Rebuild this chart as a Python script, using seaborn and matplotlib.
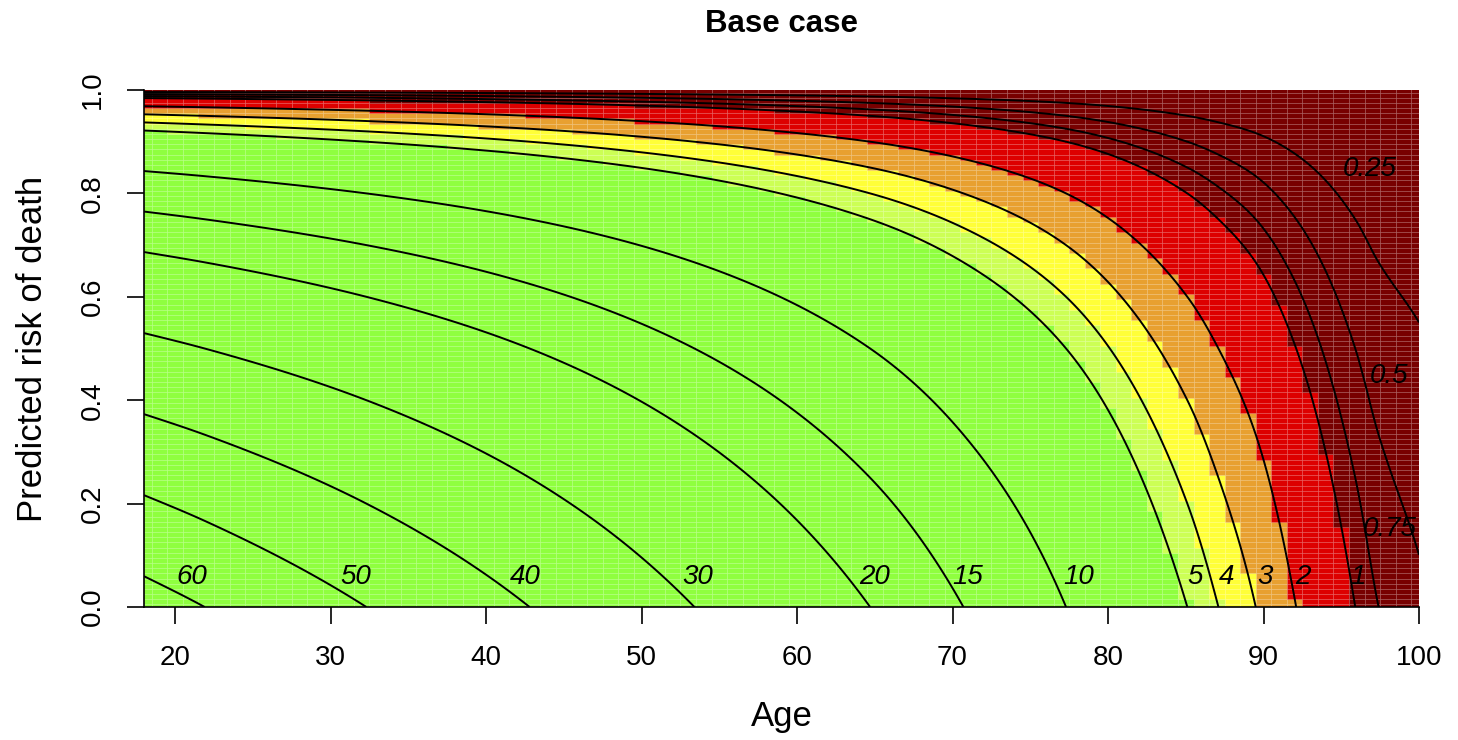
import numpy as np
import matplotlib
matplotlib.use("Agg")
import matplotlib.pyplot as plt
import seaborn as sns
from matplotlib.colors import ListedColormap, BoundaryNorm

# ---- data ----
# remaining life expectancy (years) at zero predicted risk, by age
base_age = [18, 21.9, 32.3, 42.8, 53.4, 64.7, 70.7, 77.3, 85.1, 87.1, 89.5, 92.1, 95.9, 97.4, 100]
base_le = [63.8, 60, 50, 40, 30, 20, 15, 10, 5, 4, 3, 2, 1, 0.75, 0.556]

# contour levels and where their labels sit
levels = [60, 50, 40, 30, 20, 15, 10, 5, 4, 3, 2, 1, 0.75, 0.5, 0.25]
label_age = [21.1, 31.6, 42.5, 53.6, 65.0, 71.0, 78.1, 85.6, 87.6, 90.1, 92.5, 96.1, 98.1, 98.1, 96.8]
label_risk = [0.058, 0.058, 0.058, 0.058, 0.058, 0.058, 0.058, 0.058, 0.058, 0.058, 0.058, 0.058, 0.15, 0.447, 0.847]

# colour bands (life expectancy thresholds, low -> high)
band_edges = [1, 2, 3, 4, 5]
band_colors = ["#780000", "#DD0000", "#E8A030", "#FFFF38", "#CCFF55", "#8FFF3F"]

x_ticks = [20, 30, 40, 50, 60, 70, 80, 90, 100]
y_ticks = [0.0, 0.2, 0.4, 0.6, 0.8, 1.0]

title = "Base case"
x_label = "Age"
y_label = "Predicted risk of death"


def monotone_cubic(xk, yk, x):
    """Fritsch-Carlson monotone cubic through the read points."""
    xk = np.asarray(xk, float)
    yk = np.asarray(yk, float)
    h = np.diff(xk)
    d = np.diff(yk) / h
    m = np.zeros_like(yk)
    w1 = 2 * h[1:] + h[:-1]
    w2 = h[1:] + 2 * h[:-1]
    same = d[:-1] * d[1:] > 0
    m[1:-1] = np.where(same, (w1 + w2) / (w1 / np.where(same, d[:-1], 1) + w2 / np.where(same, d[1:], 1)), 0.0)
    m[0] = d[0]
    m[-1] = d[-1]
    idx = np.clip(np.searchsorted(xk, x) - 1, 0, len(h) - 1)
    t = (x - xk[idx]) / h[idx]
    h00 = 2 * t**3 - 3 * t**2 + 1
    h10 = t**3 - 2 * t**2 + t
    h01 = -2 * t**3 + 3 * t**2
    h11 = t**3 - t**2
    return h00 * yk[idx] + h10 * h[idx] * m[idx] + h01 * yk[idx + 1] + h11 * h[idx] * m[idx + 1]


def life_expectancy(age, risk):
    le0 = np.exp(monotone_cubic(base_age, np.log(base_le), age))
    return (1.0 - risk)[:, None] * le0[None, :]


# ---- figure ----
sns.set_theme(style="ticks")
plt.rcParams["font.family"] = ["Liberation Sans", "DejaVu Sans"]
plt.rcParams["text.color"] = "black"
plt.rcParams["axes.labelcolor"] = "black"
plt.rcParams["xtick.color"] = "black"
plt.rcParams["ytick.color"] = "black"

fig = plt.figure(figsize=(14.58, 7.40), dpi=100)
ax = fig.add_axes([144 / 1458, 1 - 607 / 740, (1419 - 144) / 1458, (607 - 90) / 740])

# coarse raster of colour bands (cell centres on 1 year x 0.01 risk grid)
cell_age = np.arange(18, 101, 1.0)
cell_risk = np.arange(0, 1.0001, 0.01)
cell_le = life_expectancy(cell_age, cell_risk)
cmap = ListedColormap(band_colors)
norm = BoundaryNorm([-1] + band_edges + [1e6], cmap.N)
ax.pcolormesh(cell_age, cell_risk, cell_le, cmap=cmap, norm=norm, shading="nearest",
              edgecolors=(1, 1, 1, 0.06), linewidth=0.4, antialiased=True)

# contour lines on a fine grid
fine_age = np.linspace(18, 100, 821)
fine_risk = np.linspace(0, 1, 1001)
fine_le = life_expectancy(fine_age, fine_risk)
ax.contour(fine_age, fine_risk, fine_le, levels=sorted(levels), colors="black", linewidths=1.4)

for lev, lx, ly in zip(levels, label_age, label_risk):
    ax.text(lx, ly, f"{lev:g}", ha="center", va="center", style="italic", fontsize=20, color="black")

ax.set_xlim(18, 100)
ax.set_ylim(0, 1)
ax.set_xticks(x_ticks)
ax.set_xticklabels([f"{t:g}" for t in x_ticks])
ax.set_yticks(y_ticks)
ax.set_yticklabels([f"{t:.1f}" for t in y_ticks], rotation=90, va="center")
ax.tick_params(axis="both", length=12.5, width=1.2, pad=15, labelsize=20, color="black", labelcolor="black")
sns.despine(ax=ax, top=True, right=True)
for s in ("left", "bottom"):
    ax.spines[s].set_color("black")
    ax.spines[s].set_linewidth(1.2)

ax.set_xlabel(x_label, fontsize=25, labelpad=21, color="black")
ax.set_ylabel(y_label, fontsize=25, labelpad=22, color="black")
ax.set_title(title, fontsize=22.5, fontweight="bold", pad=42, color="black")

fig.savefig("out.png", dpi=100)
